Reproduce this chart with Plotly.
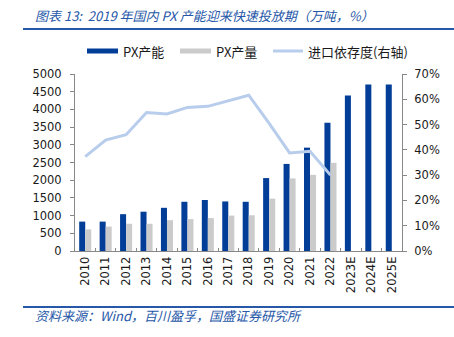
import plotly.graph_objects as go

# 2010-2025E domestic PX capacity, output (10k tonnes) and import dependence (%)
years = ["2010", "2011", "2012", "2013", "2014", "2015", "2016", "2017",
         "2018", "2019", "2020", "2021", "2022", "2023E", "2024E", "2025E"]
capacity = [830, 830, 1040, 1110, 1220, 1390, 1440, 1400,
            1390, 2060, 2460, 2920, 3620, 4390, 4700, 4700]
output = [610, 690, 770, 770, 870, 900, 930, 1000,
          1010, 1480, 2050, 2150, 2490, None, None, None]
import_dep = [37.3, 43.9, 46.0, 54.8, 54.2, 56.8, 57.2, 59.5,
              61.6, 50.5, 38.8, 39.4, 30.0, None, None, None]

BLUE = "#023E98"
GREY = "#CBCBCB"
LINE = "#B8CDEC"
HEAD = "#2657A8"
AXIS = "#888888"
TXT = "#1A1A1A"
NUM_FONT = "DejaVu Sans"
CJK_FONT = "Noto Sans CJK SC"

W, H = 454, 337
L, R, T, B = 75, 52, 74, 86
PW, PH = W - L - R, H - T - B


def px(x):
    return (x - L) / PW


def py(y):
    return (H - B - y) / PH


fig = go.Figure()
fig.add_trace(go.Bar(x=years, y=capacity, name="PX产能", marker_color=BLUE,
                     marker_line_width=0, showlegend=False))
fig.add_trace(go.Bar(x=years, y=output, name="PX产量", marker_color=GREY,
                     marker_line_width=0, showlegend=False))
fig.add_trace(go.Scatter(x=years, y=import_dep, name="进口依存度(右轴)",
                         mode="lines", line=dict(color=LINE, width=3),
                         yaxis="y2", showlegend=False))

shapes = []
annotations = []

# header rule, footer rule
for yy in (29, 307):
    shapes.append(dict(type="line", xref="paper", yref="paper",
                       x0=px(23), x1=px(454), y0=py(yy), y1=py(yy),
                       line=dict(color=HEAD, width=2)))

annotations.append(dict(text="<i>图表 13:  2019 年国内 PX 产能迎来快速投放期（万吨，%）</i>",
                        xref="paper", yref="paper", x=px(33), y=py(15),
                        xanchor="left", yanchor="middle", showarrow=False,
                        font=dict(family=CJK_FONT, size=13, color=HEAD)))
annotations.append(dict(text="<i>资料来源：Wind，百川盈孚，国盛证券研究所</i>",
                        xref="paper", yref="paper", x=px(33), y=py(315),
                        xanchor="left", yanchor="middle", showarrow=False,
                        font=dict(family=CJK_FONT, size=13, color=HEAD)))

# legend
ly = 51
shapes.append(dict(type="rect", xref="paper", yref="paper",
                   x0=px(87), x1=px(118), y0=py(ly - 2.5), y1=py(ly + 2.5),
                   fillcolor=BLUE, line_width=0))
shapes.append(dict(type="rect", xref="paper", yref="paper",
                   x0=px(180), x1=px(211), y0=py(ly - 2.5), y1=py(ly + 2.5),
                   fillcolor=GREY, line_width=0))
shapes.append(dict(type="line", xref="paper", yref="paper",
                   x0=px(273), x1=px(303), y0=py(ly), y1=py(ly),
                   line=dict(color=LINE, width=3)))
for xx, label in ((121, "PX产能"), (214, "PX产量"), (306, "进口依存度(右轴)")):
    annotations.append(dict(text=label, xref="paper", yref="paper",
                            x=px(xx), y=py(ly), xanchor="left", yanchor="middle",
                            showarrow=False,
                            font=dict(family=CJK_FONT, size=13, color=TXT)))

fig.update_layout(
    width=W, height=H,
    margin=dict(l=L, r=R, t=T, b=B, pad=0),
    paper_bgcolor="white", plot_bgcolor="white",
    barmode="group", bargap=0.41, bargroupgap=0,
    font=dict(family=NUM_FONT, size=11.5, color=TXT),
    xaxis=dict(type="category", showline=True, linecolor=AXIS, linewidth=1,
               ticks="inside", ticklen=3, tickcolor=AXIS, tickson="boundaries",
               tickangle=-90, showgrid=False, zeroline=False,
               tickfont=dict(family=NUM_FONT, size=11.5, color=TXT)),
    yaxis=dict(range=[0, 5000], dtick=500, showline=True, linecolor=AXIS,
               linewidth=1, ticks="outside", ticklen=4, tickcolor=AXIS,
               showgrid=False, zeroline=False, ticklabelstandoff=6,
               tickfont=dict(family=NUM_FONT, size=11.5, color=TXT)),
    yaxis2=dict(range=[0, 70], dtick=10, ticksuffix="%", overlaying="y",
                side="right", showline=True, linecolor=AXIS, linewidth=1,
                ticks="outside", ticklen=4, tickcolor=AXIS, showgrid=False,
                zeroline=False, ticklabelstandoff=5,
                tickfont=dict(family=NUM_FONT, size=11.5, color=TXT)),
    shapes=shapes,
    annotations=annotations,
)

fig.write_html("out.html")
